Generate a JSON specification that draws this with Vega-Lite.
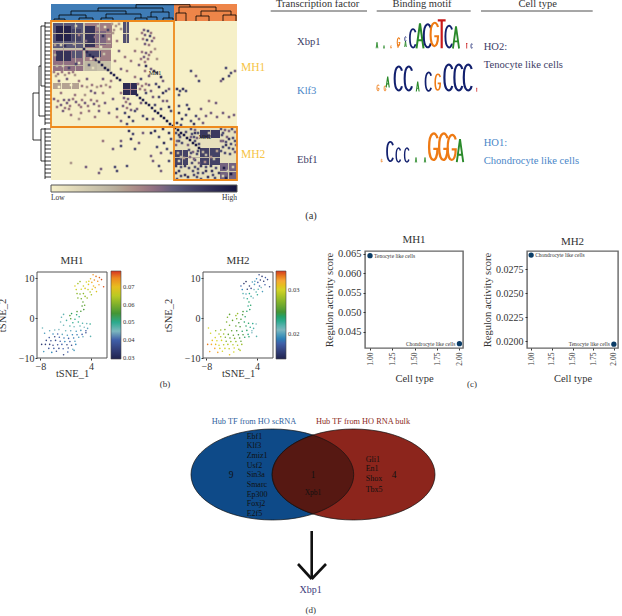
{
"$schema":"https://vega.github.io/schema/vega-lite/v6.json",
"padding":{"left":-3,"top":-1,"right":0,"bottom":0},
"background":"white",
"config":{"view":{"stroke":null},"font":"Liberation Serif","text":{"font":"Liberation Serif"},"axis":{"labelFont":"Liberation Serif","titleFont":"Liberation Serif","labelColor":"#333","titleColor":"#333","titleFontWeight":"normal","grid":false,"tickColor":"#333","tickSize":2,"domain":false},"title":{"font":"Liberation Serif","fontWeight":"normal","color":"#333"},"legend":{"labelFont":"Liberation Serif"}},
"spacing":0,
"resolve":{"scale":{"color":"independent","fill":"independent","stroke":"independent","shape":"independent","size":"independent","strokeWidth":"independent"}},
"vconcat":[
{"bounds":"flush","spacing":0,
 "resolve":{"scale":{"color":"independent","fill":"independent","stroke":"independent","shape":"independent","size":"independent","strokeWidth":"independent"}},
 "hconcat":[
 {"width":237,"height":233,
  "layer":[
   {"data":{"values":[{"x":0,"x2":186,"y":0,"y2":159,"v":0}]},"mark":{"type":"rect"},
    "encoding":{"x":{"field":"x","type":"quantitative","scale":{"domain":[-51,186],"nice":false,"zero":false},"axis":null},"x2":{"field":"x2"},"y":{"field":"y","type":"quantitative","scale":{"domain":[-21,212],"reverse":true,"nice":false,"zero":false},"axis":null},"y2":{"field":"y2"},
     "color":{"field":"v","type":"quantitative","scale":{"domain":[0,0.33,0.66,1],"range":["#f6f0c8","#b9b29f","#5f5d7c","#14143f"]},
      "legend":{"orient":"none","legendX":51,"legendY":185,"direction":"horizontal","gradientLength":186,"gradientThickness":7,"title":null,"values":[0,1],"labelExpr":"datum.value==0?'Low':'High'","labelFontSize":7.5,"labelColor":"#333","gradientStrokeColor":"#555","gradientStrokeWidth":1}}}},
   {"data":{"name":"blocks","values":[
{"x":124,"x2":186,"y":107,"y2":159,"v":0.08},{"x":2,"x2":60,"y":2,"y2":50,"v":0.25},
{"x":2,"x2":32,"y":2,"y2":27,"v":0.68},{"x":34,"x2":61,"y":2,"y2":27,"v":0.5},{"x":2,"x2":32,"y":29,"y2":50,"v":0.55},{"x":34,"x2":60,"y":29,"y2":40,"v":0.5},{"x":34,"x2":46,"y":40,"y2":50,"v":0.3},
{"x":5,"x2":20,"y":5,"y2":20,"v":0.93},{"x":21,"x2":30,"y":8,"y2":20,"v":0.78},{"x":34,"x2":44,"y":5,"y2":26,"v":0.85},{"x":45,"x2":55,"y":10,"y2":24,"v":0.6},{"x":5,"x2":20,"y":30,"y2":40,"v":0.85},{"x":21,"x2":31,"y":30,"y2":37,"v":0.7},{"x":35,"x2":50,"y":30,"y2":36,"v":0.75},
{"x":72,"x2":78,"y":1,"y2":22,"v":0.72},{"x":2,"x2":28,"y":62,"y2":68,"v":0.38},{"x":72,"x2":86,"y":62,"y2":74,"v":0.88},
{"x":124,"x2":137,"y":129,"y2":144,"v":0.78},{"x":149,"x2":169,"y":127,"y2":144,"v":0.78},{"x":169,"x2":186,"y":142,"y2":159,"v":0.62},{"x":149,"x2":169,"y":109,"y2":117,"v":0.82},
{"x":12,"x2":13,"y":2,"y2":50,"v":0.35},{"x":24,"x2":25,"y":2,"y2":50,"v":0.3},{"x":48,"x2":49,"y":2,"y2":40,"v":0.3},{"x":2,"x2":60,"y":12,"y2":13,"v":0.35},{"x":2,"x2":60,"y":22,"y2":23,"v":0.3},{"x":2,"x2":32,"y":44,"y2":45,"v":0.3},{"x":10,"x2":11,"y":62,"y2":68,"v":0.05},{"x":20,"x2":21,"y":62,"y2":68,"v":0.05},{"x":75,"x2":75.8,"y":1,"y2":22,"v":0.2},{"x":72,"x2":78,"y":12,"y2":13,"v":0.15},{"x":79,"x2":80,"y":62,"y2":74,"v":0.5},{"x":72,"x2":86,"y":68,"y2":69,"v":0.5},
{"x":131,"x2":132,"y":129,"y2":144,"v":0.3},{"x":158,"x2":159,"y":127,"y2":144,"v":0.3},{"x":177,"x2":178,"y":142,"y2":159,"v":0.2},{"x":124,"x2":169,"y":136,"y2":137,"v":0.3},{"x":169,"x2":186,"y":150,"y2":151,"v":0.2},{"x":159,"x2":160,"y":109,"y2":117,"v":0.35}
]},"mark":{"type":"rect"},
    "encoding":{"x":{"field":"x","type":"quantitative","axis":null},"x2":{"field":"x2"},"y":{"field":"y","type":"quantitative","axis":null},"y2":{"field":"y2"},"color":{"field":"v","type":"quantitative","legend":null}}},
   {"data":{"name":"cells","values":[
{"x":33,"y":28,"v":0.9},{"x":36,"y":31,"v":0.9},{"x":39,"y":34,"v":0.9},{"x":42,"y":36,"v":0.95},{"x":45,"y":39,"v":0.9},{"x":48,"y":41,"v":0.9},{"x":51,"y":44,"v":0.9},{"x":54,"y":47,"v":0.95},{"x":57,"y":49,"v":0.9},{"x":60,"y":52,"v":0.85},{"x":63,"y":54,"v":0.9},{"x":66,"y":57,"v":0.9},{"x":69,"y":59,"v":0.85},{"x":86,"y":74,"v":0.9},{"x":89,"y":77,"v":0.9},{"x":92,"y":79,"v":0.9},{"x":95,"y":82,"v":0.9},{"x":98,"y":84,"v":0.9},{"x":101,"y":87,"v":0.9},{"x":104,"y":90,"v":0.9},{"x":107,"y":92,"v":0.95},{"x":110,"y":95,"v":0.95},{"x":113,"y":97,"v":0.95},{"x":116,"y":100,"v":0.95},{"x":119,"y":103,"v":0.95},{"x":122,"y":105,"v":0.95},
{"x":124,"y":107,"v":0.95},{"x":127,"y":109,"v":0.95},{"x":130,"y":112,"v":0.95},{"x":133,"y":114,"v":0.95},{"x":136,"y":117,"v":0.95},{"x":139,"y":119,"v":0.95},{"x":142,"y":122,"v":0.95},{"x":145,"y":124,"v":0.95},{"x":148,"y":127,"v":0.95},
{"x":95,"y":45,"v":0.8},{"x":100,"y":48,"v":0.6},{"x":103,"y":50,"v":0.8},{"x":106,"y":52,"v":0.7},{"x":98,"y":55,"v":0.6},{"x":90,"y":58,"v":0.7},{"x":110,"y":56,"v":0.8},{"x":112,"y":60,"v":0.6},{"x":105,"y":63,"v":0.7},{"x":108,"y":66,"v":0.8},{"x":115,"y":70,"v":0.7},{"x":118,"y":68,"v":0.6},{"x":112,"y":72,"v":0.8},{"x":100,"y":70,"v":0.6},{"x":95,"y":72,"v":0.7},{"x":108,"y":76,"v":0.7},{"x":112,"y":80,"v":0.6},{"x":104,"y":84,"v":0.7},{"x":118,"y":86,"v":0.8},{"x":120,"y":90,"v":0.7},{"x":90,"y":82,"v":0.6},{"x":84,"y":90,"v":0.7},{"x":78,"y":96,"v":0.8},{"x":74,"y":92,"v":0.7},{"x":82,"y":100,"v":0.7},{"x":86,"y":88,"v":0.6},{"x":70,"y":100,"v":0.6},{"x":76,"y":103,"v":0.7},{"x":92,"y":95,"v":0.7},{"x":96,"y":98,"v":0.8},{"x":102,"y":98,"v":0.6},{"x":110,"y":88,"v":0.7},{"x":116,"y":80,"v":0.6},
{"x":40,"y":70,"v":0.6},{"x":52,"y":72,"v":0.5},{"x":62,"y":78,"v":0.6},{"x":48,"y":90,"v":0.6},{"x":30,"y":92,"v":0.5},{"x":20,"y":94,"v":0.5},{"x":12,"y":90,"v":0.6},{"x":10,"y":72,"v":0.5},{"x":58,"y":92,"v":0.6},{"x":66,"y":88,"v":0.7},{"x":44,"y":96,"v":0.5},{"x":8,"y":60,"v":0.6},{"x":16,"y":58,"v":0.6},{"x":28,"y":60,"v":0.5},{"x":36,"y":58,"v":0.6},{"x":52,"y":58,"v":0.6},{"x":60,"y":60,"v":0.5},{"x":70,"y":48,"v":0.6},{"x":64,"y":40,"v":0.5},{"x":68,"y":30,"v":0.6},{"x":62,"y":12,"v":0.4},{"x":66,"y":20,"v":0.5},{"x":70,"y":8,"v":0.4},{"x":84,"y":30,"v":0.5},{"x":80,"y":40,"v":0.5},{"x":76,"y":50,"v":0.5},{"x":44,"y":72,"v":0.6},{"x":24,"y":74,"v":0.5},{"x":54,"y":82,"v":0.6},
{"x":74,"y":36,"v":0.5},{"x":86,"y":18,"v":0.4},{"x":88,"y":44,"v":0.6},{"x":84,"y":56,"v":0.5},{"x":104,"y":28,"v":0.4},{"x":106,"y":38,"v":0.4},{"x":94,"y":50,"v":0.5},{"x":34,"y":74,"v":0.4},{"x":18,"y":88,"v":0.5},{"x":28,"y":98,"v":0.4},{"x":38,"y":90,"v":0.5},{"x":70,"y":72,"v":0.5},{"x":66,"y":96,"v":0.5},{"x":98,"y":64,"v":0.6},{"x":102,"y":76,"v":0.6},
{"x":93,"y":9,"v":0.6},{"x":97,"y":10,"v":0.7},{"x":100,"y":12,"v":0.5},{"x":94,"y":14,"v":0.6},{"x":99,"y":15,"v":0.7},{"x":92,"y":18,"v":0.5},{"x":96,"y":19,"v":0.7},{"x":101,"y":20,"v":0.6},{"x":94,"y":23,"v":0.6},{"x":98,"y":24,"v":0.5},{"x":91,"y":12,"v":0.5},{"x":103,"y":17,"v":0.5},
{"x":91,"y":31,"v":0.5},{"x":95,"y":32,"v":0.6},{"x":98,"y":34,"v":0.5},{"x":93,"y":36,"v":0.6},{"x":97,"y":38,"v":0.5},{"x":90,"y":38,"v":0.5},{"x":100,"y":31,"v":0.5},{"x":94,"y":41,"v":0.5},
{"x":3,"y":51,"v":0.5},{"x":7,"y":53,"v":0.5},{"x":11,"y":51,"v":0.5},{"x":14,"y":54,"v":0.4},{"x":18,"y":52,"v":0.5},{"x":22,"y":51,"v":0.5},{"x":24,"y":54,"v":0.4},{"x":5,"y":55,"v":0.4},
{"x":31,"y":65,"v":0.5},{"x":36,"y":66,"v":0.4},{"x":41,"y":64,"v":0.5},{"x":46,"y":66,"v":0.4},{"x":50,"y":65,"v":0.5},{"x":55,"y":64,"v":0.4},{"x":59,"y":66,"v":0.5},
{"x":3,"y":78,"v":0.6},{"x":7,"y":80,"v":0.5},{"x":10,"y":84,"v":0.6},{"x":13,"y":79,"v":0.6},{"x":16,"y":82,"v":0.6},{"x":19,"y":85,"v":0.5},{"x":22,"y":78,"v":0.5},{"x":25,"y":81,"v":0.6},{"x":28,"y":84,"v":0.5},{"x":31,"y":79,"v":0.5},{"x":34,"y":82,"v":0.6},{"x":37,"y":85,"v":0.5},{"x":40,"y":79,"v":0.5},{"x":43,"y":83,"v":0.6},{"x":46,"y":80,"v":0.5},{"x":6,"y":86,"v":0.5},{"x":18,"y":79,"v":0.6},{"x":30,"y":86,"v":0.5},{"x":48,"y":85,"v":0.5},{"x":14,"y":87,"v":0.5},
{"x":73,"y":77,"v":0.6},{"x":77,"y":78,"v":0.6},{"x":75,"y":81,"v":0.5},{"x":79,"y":83,"v":0.6},{"x":72,"y":85,"v":0.6},{"x":76,"y":87,"v":0.5},{"x":80,"y":89,"v":0.6},
{"x":87,"y":63,"v":0.5},{"x":91,"y":65,"v":0.5},{"x":95,"y":63,"v":0.5},{"x":89,"y":68,"v":0.5},{"x":94,"y":69,"v":0.5},{"x":61,"y":3,"v":0.4},{"x":65,"y":5,"v":0.4},{"x":68,"y":3,"v":0.4},{"x":63,"y":9,"v":0.4},
{"x":140,"y":108,"v":0.7},{"x":144,"y":109,"v":0.6},{"x":147,"y":112,"v":0.7},{"x":141,"y":113,"v":0.7},{"x":146,"y":117,"v":0.6},{"x":140,"y":116,"v":0.6},{"x":144,"y":120,"v":0.7},{"x":148,"y":123,"v":0.7},
{"x":170,"y":108,"v":0.7},{"x":174,"y":109,"v":0.6},{"x":181,"y":108,"v":0.7},{"x":184,"y":111,"v":0.6},{"x":171,"y":114,"v":0.7},{"x":176,"y":116,"v":0.6},{"x":182,"y":117,"v":0.7},{"x":170,"y":120,"v":0.6},{"x":175,"y":121,"v":0.7},{"x":180,"y":123,"v":0.7},{"x":185,"y":124,"v":0.6},{"x":172,"y":126,"v":0.7},{"x":178,"y":127,"v":0.7},{"x":184,"y":131,"v":0.6},{"x":170,"y":130,"v":0.7},{"x":179,"y":133,"v":0.7},
{"x":125,"y":145,"v":0.8},{"x":130,"y":146,"v":0.7},{"x":134,"y":145,"v":0.8},{"x":138,"y":147,"v":0.7},{"x":144,"y":146,"v":0.7},{"x":147,"y":148,"v":0.7},{"x":125,"y":152,"v":0.8},{"x":130,"y":155,"v":0.7},{"x":137,"y":156,"v":0.8},{"x":143,"y":154,"v":0.7},{"x":147,"y":152,"v":0.7},{"x":126,"y":158,"v":0.7},
{"x":150,"y":145,"v":0.8},{"x":155,"y":146,"v":0.7},{"x":160,"y":145,"v":0.8},{"x":165,"y":147,"v":0.7},{"x":168,"y":152,"v":0.8},{"x":152,"y":152,"v":0.7},{"x":157,"y":156,"v":0.8},{"x":164,"y":157,"v":0.7},{"x":150,"y":158,"v":0.7},{"x":161,"y":150,"v":0.8},
{"x":125,"y":112,"v":0.7},{"x":129,"y":116,"v":0.7},{"x":135,"y":111,"v":0.7},{"x":126,"y":120,"v":0.6},{"x":131,"y":122,"v":0.7},{"x":137,"y":124,"v":0.6},{"x":125,"y":124,"v":0.6},
{"x":138,"y":129,"v":0.7},{"x":142,"y":131,"v":0.6},{"x":147,"y":130,"v":0.7},{"x":139,"y":136,"v":0.6},{"x":144,"y":139,"v":0.7},{"x":148,"y":142,"v":0.6},{"x":141,"y":142,"v":0.7},
{"x":126,"y":68,"v":0.8},{"x":129,"y":70,"v":0.7},{"x":132,"y":68,"v":0.8},{"x":135,"y":70,"v":0.7},{"x":128,"y":74,"v":0.7},{"x":140,"y":50,"v":0.7},{"x":145,"y":55,"v":0.6},{"x":148,"y":60,"v":0.7},{"x":175,"y":47,"v":0.7},{"x":178,"y":55,"v":0.7},{"x":172,"y":58,"v":0.8},{"x":180,"y":52,"v":0.7},{"x":170,"y":60,"v":0.6},{"x":184,"y":50,"v":0.6},{"x":165,"y":82,"v":0.6},{"x":150,"y":88,"v":0.6},{"x":145,"y":95,"v":0.7},{"x":128,"y":92,"v":0.8},{"x":131,"y":98,"v":0.8},{"x":135,"y":94,"v":0.7},{"x":138,"y":88,"v":0.8},{"x":140,"y":100,"v":0.7},{"x":143,"y":103,"v":0.8},{"x":126,"y":102,"v":0.8},{"x":130,"y":104,"v":0.7},{"x":148,"y":98,"v":0.6},{"x":155,"y":95,"v":0.6},{"x":160,"y":92,"v":0.6},{"x":166,"y":96,"v":0.6},{"x":172,"y":92,"v":0.6},{"x":178,"y":96,"v":0.6},{"x":183,"y":94,"v":0.6},{"x":136,"y":84,"v":0.7},{"x":128,"y":85,"v":0.7},{"x":152,"y":102,"v":0.6},{"x":158,"y":80,"v":0.5},
{"x":78,"y":110,"v":0.8},{"x":82,"y":113,"v":0.7},{"x":80,"y":118,"v":0.8},{"x":88,"y":122,"v":0.6},{"x":84,"y":128,"v":0.7},{"x":70,"y":120,"v":0.6},{"x":92,"y":112,"v":0.6},{"x":100,"y":112,"v":0.8},{"x":104,"y":110,"v":0.8},{"x":108,"y":116,"v":0.7},{"x":112,"y":108,"v":0.8},{"x":118,"y":112,"v":0.8},{"x":120,"y":118,"v":0.7},{"x":113,"y":122,"v":0.8},{"x":116,"y":128,"v":0.7},{"x":110,"y":132,"v":0.6},{"x":106,"y":126,"v":0.7},{"x":70,"y":125,"v":0.7},{"x":62,"y":128,"v":0.6},{"x":52,"y":120,"v":0.5},{"x":76,"y":145,"v":0.7},{"x":66,"y":150,"v":0.7},{"x":64,"y":146,"v":0.7},{"x":50,"y":148,"v":0.6},{"x":48,"y":152,"v":0.6},{"x":35,"y":146,"v":0.6},{"x":20,"y":142,"v":0.4},{"x":108,"y":145,"v":0.7},{"x":110,"y":150,"v":0.6},{"x":100,"y":135,"v":0.6},{"x":102,"y":140,"v":0.6},{"x":118,"y":140,"v":0.7},{"x":120,"y":132,"v":0.7},
{"x":128,"y":114,"v":0.8},{"x":144,"y":112,"v":0.8},{"x":172,"y":112,"v":0.7},{"x":178,"y":118,"v":0.8},{"x":182,"y":128,"v":0.7},{"x":175,"y":124,"v":0.8},{"x":140,"y":132,"v":0.7},{"x":128,"y":150,"v":0.8},{"x":134,"y":154,"v":0.8},{"x":142,"y":150,"v":0.7},{"x":155,"y":150,"v":0.8},{"x":162,"y":154,"v":0.7},{"x":146,"y":156,"v":0.7},
{"x":10,"y":24,"v":0.2},{"x":25,"y":5,"v":0.2},{"x":12,"y":45,"v":0.2},{"x":28,"y":42,"v":0.1},{"x":54,"y":6,"v":0.1},{"x":58,"y":18,"v":0.1},{"x":40,"y":38,"v":0.1},{"x":50,"y":26,"v":0.1},{"x":8,"y":66,"v":0},{"x":20,"y":64,"v":0},{"x":130,"y":136,"v":0.3},{"x":128,"y":140,"v":0.2},{"x":155,"y":134,"v":0.3},{"x":163,"y":138,"v":0.3},{"x":158,"y":112,"v":0.3},{"x":177,"y":150,"v":0.2},{"x":182,"y":146,"v":0.2},{"x":172,"y":155,"v":0.2},
{"x":23,"y":23,"v":0.35},{"x":47,"y":5,"v":0.25},{"x":52,"y":15,"v":0.85},{"x":57,"y":9,"v":0.75},{"x":28,"y":14,"v":0.5},{"x":4,"y":24,"v":0.4},{"x":14,"y":25,"v":0.85},{"x":6,"y":45,"v":0.3},{"x":18,"y":47,"v":0.75},{"x":25,"y":43,"v":0.75},{"x":4,"y":34,"v":0.35},{"x":47,"y":38,"v":0.2},{"x":53,"y":33,"v":0.25},{"x":38,"y":44,"v":0.7},{"x":42,"y":47,"v":0.1},{"x":44,"y":16,"v":0.55},{"x":35,"y":20,"v":0.6},{"x":127,"y":132,"v":0.35},{"x":133,"y":137,"v":0.4},{"x":152,"y":131,"v":0.35},{"x":160,"y":136,"v":0.45},{"x":166,"y":130,"v":0.4},{"x":154,"y":141,"v":0.45},{"x":173,"y":147,"v":0.95},{"x":180,"y":153,"v":0.95},{"x":175,"y":157,"v":0.9},{"x":172,"y":120,"v":0.6},{"x":184,"y":120,"v":0.7},{"x":174,"y":132,"v":0.7},{"x":178,"y":110,"v":0.6},{"x":143,"y":138,"v":0.6},{"x":146,"y":133,"v":0.7},{"x":128,"y":120,"v":0.7},{"x":143,"y":116,"v":0.7}
]},"mark":{"type":"rect","width":2.6,"height":2.6},
    "encoding":{"x":{"field":"x","type":"quantitative","axis":null},"y":{"field":"y","type":"quantitative","axis":null},"color":{"field":"v","type":"quantitative","legend":null}}},
   {"data":{"values":[{"x":0,"x2":123,"y":-17,"y2":0,"g":"MH1"},{"x":123,"x2":186,"y":-17,"y2":0,"g":"MH2"}]},"mark":{"type":"rect","opacity":1},
    "encoding":{"x":{"field":"x","type":"quantitative","axis":null},"x2":{"field":"x2"},"y":{"field":"y","type":"quantitative","axis":null},"y2":{"field":"y2"},"fill":{"field":"g","type":"nominal","scale":{"domain":["MH1","MH2"],"range":["#3f7cb6","#ee8549"]},"legend":null}}},
   {"data":{"values":[
{"x":85,"x2":139,"y":-16.3,"y2":-16.3},{"x":85,"x2":85,"y":-16.3,"y2":-13},{"x":139,"x2":139,"y":-16.3,"y2":-14},{"x":47,"x2":112,"y":-13,"y2":-13},{"x":47,"x2":47,"y":-13,"y2":-10},{"x":112,"x2":112,"y":-13,"y2":-9},{"x":20,"x2":75,"y":-10,"y2":-10},{"x":20,"x2":20,"y":-10,"y2":-6},{"x":75,"x2":75,"y":-10,"y2":-7},{"x":8,"x2":35,"y":-6,"y2":-6},{"x":8,"x2":8,"y":-6,"y2":-2},{"x":35,"x2":35,"y":-6,"y2":-3},{"x":55,"x2":90,"y":-7,"y2":-7},{"x":55,"x2":55,"y":-7,"y2":-3},{"x":90,"x2":90,"y":-7,"y2":-3},{"x":100,"x2":118,"y":-9,"y2":-9},{"x":100,"x2":100,"y":-9,"y2":-4},{"x":118,"x2":118,"y":-9,"y2":-3},{"x":3,"x2":14,"y":-2,"y2":-2},{"x":28,"x2":42,"y":-3,"y2":-3},{"x":50,"x2":62,"y":-3,"y2":-3},{"x":84,"x2":96,"y":-3,"y2":-3},{"x":96,"x2":106,"y":-4,"y2":-4},{"x":112,"x2":122,"y":-3,"y2":-3},{"x":3,"x2":3,"y":-2,"y2":0},{"x":14,"x2":14,"y":-2,"y2":0},{"x":28,"x2":28,"y":-3,"y2":0},{"x":42,"x2":42,"y":-3,"y2":0},{"x":50,"x2":50,"y":-3,"y2":0},{"x":62,"x2":62,"y":-3,"y2":0},{"x":84,"x2":84,"y":-3,"y2":0},{"x":96,"x2":96,"y":-3,"y2":0},{"x":106,"x2":106,"y":-4,"y2":0},{"x":112,"x2":112,"y":-3,"y2":0},{"x":122,"x2":122,"y":-3,"y2":0},
{"x":128,"x2":165,"y":-14,"y2":-14},{"x":128,"x2":128,"y":-14,"y2":-8},{"x":165,"x2":165,"y":-14,"y2":-10},{"x":125,"x2":135,"y":-8,"y2":-8},{"x":150,"x2":180,"y":-10,"y2":-10},{"x":150,"x2":150,"y":-10,"y2":-5},{"x":180,"x2":180,"y":-10,"y2":-6},{"x":145,"x2":158,"y":-5,"y2":-5},{"x":172,"x2":185,"y":-6,"y2":-6},{"x":125,"x2":125,"y":-8,"y2":0},{"x":135,"x2":135,"y":-8,"y2":0},{"x":145,"x2":145,"y":-5,"y2":0},{"x":158,"x2":158,"y":-5,"y2":0},{"x":172,"x2":172,"y":-6,"y2":0},{"x":185,"x2":185,"y":-6,"y2":0},
{"x":-18,"x2":-18,"y":72,"y2":119},{"x":-18,"x2":-12,"y":72,"y2":72},{"x":-18,"x2":-10,"y":119,"y2":119},{"x":-12,"x2":-12,"y":45,"y2":95},{"x":-12,"x2":-10,"y":45,"y2":45},{"x":-12,"x2":-6,"y":95,"y2":95},{"x":-10,"x2":-10,"y":5,"y2":65},{"x":-10,"x2":-6,"y":5,"y2":5},{"x":-10,"x2":-6,"y":65,"y2":65},{"x":-10,"x2":-10,"y":108,"y2":140},{"x":-10,"x2":-6,"y":108,"y2":108},{"x":-10,"x2":-6,"y":140,"y2":140},{"x":-6,"x2":-6,"y":1,"y2":104},{"x":-6,"x2":-6,"y":107,"y2":158},
{"x":-6,"x2":0,"y":2,"y2":2},{"x":-6,"x2":0,"y":6,"y2":6},{"x":-6,"x2":0,"y":10,"y2":10},{"x":-6,"x2":0,"y":14,"y2":14},{"x":-6,"x2":0,"y":18,"y2":18},{"x":-6,"x2":0,"y":22,"y2":22},{"x":-6,"x2":0,"y":26,"y2":26},{"x":-6,"x2":0,"y":30,"y2":30},{"x":-6,"x2":0,"y":34,"y2":34},{"x":-6,"x2":0,"y":38,"y2":38},{"x":-6,"x2":0,"y":42,"y2":42},{"x":-6,"x2":0,"y":46,"y2":46},{"x":-6,"x2":0,"y":50,"y2":50},{"x":-6,"x2":0,"y":54,"y2":54},{"x":-6,"x2":0,"y":58,"y2":58},{"x":-6,"x2":0,"y":62,"y2":62},{"x":-6,"x2":0,"y":66,"y2":66},{"x":-6,"x2":0,"y":70,"y2":70},{"x":-6,"x2":0,"y":74,"y2":74},{"x":-6,"x2":0,"y":78,"y2":78},{"x":-6,"x2":0,"y":82,"y2":82},{"x":-6,"x2":0,"y":86,"y2":86},{"x":-6,"x2":0,"y":90,"y2":90},{"x":-6,"x2":0,"y":94,"y2":94},{"x":-6,"x2":0,"y":98,"y2":98},{"x":-6,"x2":0,"y":102,"y2":102},{"x":-6,"x2":0,"y":108,"y2":108},{"x":-6,"x2":0,"y":112,"y2":112},{"x":-6,"x2":0,"y":116,"y2":116},{"x":-6,"x2":0,"y":120,"y2":120},{"x":-6,"x2":0,"y":124,"y2":124},{"x":-6,"x2":0,"y":128,"y2":128},{"x":-6,"x2":0,"y":132,"y2":132},{"x":-6,"x2":0,"y":136,"y2":136},{"x":-6,"x2":0,"y":140,"y2":140},{"x":-6,"x2":0,"y":144,"y2":144},{"x":-6,"x2":0,"y":148,"y2":148},{"x":-6,"x2":0,"y":152,"y2":152},{"x":-6,"x2":0,"y":156,"y2":156}
]},"mark":{"type":"rule","color":"#000","strokeWidth":0.8},
    "encoding":{"x":{"field":"x","type":"quantitative","axis":null},"x2":{"field":"x2"},"y":{"field":"y","type":"quantitative","axis":null},"y2":{"field":"y2"}}},
   {"data":{"values":[{"x":0,"x2":123,"y":0,"y2":106},{"x":123,"x2":186,"y":106,"y2":159}]},"mark":{"type":"rect","fillOpacity":0,"stroke":"#ee8a1d","strokeWidth":1.8},
    "encoding":{"x":{"field":"x","type":"quantitative","axis":null},"x2":{"field":"x2"},"y":{"field":"y","type":"quantitative","axis":null},"y2":{"field":"y2"}}},
   {"data":{"values":[{"x":104,"y":52,"t":"MH1"},{"x":154,"y":116,"t":"MH2"}]},"mark":{"type":"text","fontSize":6,"color":"#222"},
    "encoding":{"x":{"field":"x","type":"quantitative","axis":null},"y":{"field":"y","type":"quantitative","axis":null},"text":{"field":"t"}}}
  ]},
 {"width":385,"height":233,
  "layer":[
   {"data":{"values":[{"x":270.7,"x2":367,"y":11},{"x":376.7,"x2":470.7,"y":11},{"x":481,"x2":592.7,"y":11}]},"mark":{"type":"rule","color":"#222","strokeWidth":0.8},
    "encoding":{"x":{"field":"x","type":"quantitative","scale":{"domain":[237,622],"nice":false,"zero":false},"axis":null},"x2":{"field":"x2"},"y":{"field":"y","type":"quantitative","scale":{"domain":[0,233],"reverse":true,"nice":false},"axis":null}}},
   {"data":{"values":[{"x":317.7,"y":4,"t":"Transcription factor"},{"x":422,"y":4,"t":"Binding motif"},{"x":537.7,"y":4,"t":"Cell type"},{"x":311,"y":216,"t":"(a)"}]},"mark":{"type":"text","fontSize":10.5,"color":"#333"},
    "encoding":{"x":{"field":"x","type":"quantitative","axis":null},"y":{"field":"y","type":"quantitative","axis":null},"text":{"field":"t"}}},
   {"data":{"values":[{"x":297,"y":41.7,"t":"Xbp1","g":"tenocyte"},{"x":297,"y":90.7,"t":"Klf3","g":"chondrocyte"},{"x":297,"y":160,"t":"Ebf1","g":"tenocyte"},{"x":483.7,"y":47,"t":"HO2:","g":"tenocyte"},{"x":483.7,"y":65,"t":"Tenocyte like cells","g":"tenocyte"},{"x":483.7,"y":143,"t":"HO1:","g":"chondrocyte"},{"x":483.7,"y":161,"t":"Chondrocyte like cells","g":"chondrocyte"}]},"mark":{"type":"text","fontSize":10.6,"align":"left"},
    "encoding":{"x":{"field":"x","type":"quantitative","axis":null},"y":{"field":"y","type":"quantitative","axis":null},"text":{"field":"t"},"color":{"field":"g","type":"nominal","scale":{"domain":["tenocyte","chondrocyte"],"range":["#3d3d66","#4a86c8"]},"legend":null}}},
   {"data":{"values":[{"x":241,"y":68,"t":"MH1"},{"x":241,"y":155,"t":"MH2"}]},"mark":{"type":"text","fontSize":11.5,"align":"left","color":"#f6c445"},
    "encoding":{"x":{"field":"x","type":"quantitative","axis":null},"y":{"field":"y","type":"quantitative","axis":null},"text":{"field":"t"}}},
   {"data":{"values":[
{"x":377,"y":45.3,"h":6,"l":"A"},{"x":384,"y":47,"h":3,"l":"A"},{"x":391,"y":47,"h":3,"l":"G"},{"x":398,"y":46,"h":4,"l":"G"},{"x":398.5,"y":42,"h":9,"l":"G"},{"x":405.5,"y":44,"h":6,"l":"A"},{"x":405.5,"y":39,"h":5,"l":"C"},{"x":412.7,"y":38.3,"h":20,"l":"C"},{"x":420,"y":35.8,"h":25,"l":"A"},{"x":427.3,"y":35.8,"h":25,"l":"C"},{"x":434.3,"y":35,"h":26.5,"l":"G"},{"x":441.7,"y":34.3,"h":28,"l":"T"},{"x":448.7,"y":36.6,"h":23.5,"l":"C"},{"x":456,"y":37.5,"h":22,"l":"A"},{"x":466.7,"y":46,"h":5,"l":"T"},{"x":471.7,"y":46,"h":5,"l":"C"},
{"x":378,"y":88,"h":7,"l":"G"},{"x":385,"y":88.5,"h":6,"l":"G"},{"x":387.7,"y":82,"h":11,"l":"A"},{"x":398.3,"y":78.5,"h":26,"l":"C"},{"x":408.3,"y":78.5,"h":26,"l":"C"},{"x":417.7,"y":86.5,"h":10,"l":"A"},{"x":428.3,"y":81.7,"h":20,"l":"C"},{"x":437.7,"y":82.5,"h":18,"l":"G"},{"x":448.3,"y":77.5,"h":28,"l":"C"},{"x":458.3,"y":77.5,"h":28,"l":"C"},{"x":467.7,"y":77.5,"h":28,"l":"C"},{"x":476.7,"y":90,"h":3.5,"l":"T"},
{"x":381.7,"y":160.7,"h":3.5,"l":"G"},{"x":390,"y":151.5,"h":21,"l":"C"},{"x":398.3,"y":155,"h":15,"l":"C"},{"x":406.7,"y":155,"h":15,"l":"C"},{"x":416,"y":160,"h":5,"l":"A"},{"x":425,"y":160,"h":5,"l":"A"},{"x":433.3,"y":147.3,"h":30,"l":"G"},{"x":443.3,"y":147.3,"h":30,"l":"G"},{"x":451.7,"y":148,"h":28.5,"l":"G"},{"x":460,"y":150.7,"h":23,"l":"A"}
]},"mark":{"type":"point","filled":false,"opacity":1},
    "encoding":{"x":{"field":"x","type":"quantitative","axis":null},"y":{"field":"y","type":"quantitative","axis":null},
     "shape":{"field":"l","type":"nominal","legend":null,"scale":{"domain":["A","C","G","T"],"range":["M-0.28,1 L0,-1 L0.28,1 M-0.17,0.35 L0.17,0.35","M0.28,-0.6 C0.17,-1.1 -0.28,-1.1 -0.28,0 C-0.28,1.1 0.17,1.1 0.28,0.6","M0.28,-0.6 C0.17,-1.1 -0.28,-1.1 -0.28,0 C-0.28,1.1 0.28,1.1 0.28,0.1 L0,0.1","M-0.28,-1 L0.28,-1 M0,-1 L0,1"]}},
     "stroke":{"field":"l","type":"nominal","legend":null,"scale":{"domain":["A","C","G","T"],"range":["#2a8a2a","#12206e","#ee7a14","#c91a1a"]}},
     "size":{"field":"h","type":"quantitative","legend":null,"scale":{"type":"pow","exponent":2,"domain":[0,30],"range":[0,900]}},
     "strokeWidth":{"field":"h","type":"quantitative","legend":null,"scale":{"domain":[3,30],"range":[0.7,2.3]}}}}
  ]}
]},
{"bounds":"flush","spacing":0,
 "resolve":{"scale":{"color":"independent","fill":"independent","stroke":"independent","shape":"independent","size":"independent","strokeWidth":"independent"}},
 "hconcat":[
 {"width":37,"height":10,"data":{"values":[]},"mark":"text","encoding":{}},
 {"width":70,"height":107,"layer":[
   {"data":{"values":[{"x":-8.8,"x2":7.8,"y":-10,"y2":11.5}]},"mark":{"type":"rect","fillOpacity":0,"stroke":"#555","strokeWidth":1},
    "encoding":{"x":{"field":"x","type":"quantitative","scale":{"domain":[-8.8,7.8],"nice":false,"zero":false},"axis":{"values":[-8,-4,0,4],"title":"tSNE_1","labelFontSize":10,"titleFontSize":10.5,"titlePadding":-3,"labelPadding":1}},"x2":{"field":"x2"},"y":{"field":"y","type":"quantitative","scale":{"domain":[-10,16.75],"nice":false,"zero":false},"axis":{"values":[-10,-5,0,5,10],"title":"tSNE_2","labelFontSize":10,"titleFontSize":10.5,"titleY":64,"titleX":-30,"labelPadding":1}},"y2":{"field":"y2"}}},
   {"data":{"name":"tsne","values":[
{"x":4.5,"y":10.8,"a":0.074,"b":0.017},{"x":5.2,"y":10.4,"a":0.076,"b":0.016},{"x":6,"y":10.1,"a":0.077,"b":0.018},{"x":3.9,"y":9.8,"a":0.071,"b":0.019},{"x":4.8,"y":9.5,"a":0.075,"b":0.016},{"x":3.5,"y":9.2,"a":0.068,"b":0.02},{"x":6.5,"y":9.6,"a":0.078,"b":0.017},{"x":5.6,"y":9.2,"a":0.074,"b":0.016},{"x":2.9,"y":9,"a":0.067,"b":0.02},{"x":4.2,"y":8.9,"a":0.072,"b":0.018},{"x":7,"y":7.8,"a":0.078,"b":0.017},{"x":5.9,"y":8.3,"a":0.073,"b":0.018},{"x":4.6,"y":8,"a":0.071,"b":0.018},{"x":3.4,"y":8.4,"a":0.068,"b":0.02},{"x":2.2,"y":8,"a":0.066,"b":0.016},{"x":1.4,"y":9.1,"a":0.062,"b":0.015},{"x":0.9,"y":8.6,"a":0.063,"b":0.016},{"x":0.2,"y":8,"a":0.068,"b":0.018},{"x":0.5,"y":7.1,"a":0.066,"b":0.019},{"x":1.7,"y":7.2,"a":0.067,"b":0.016},{"x":2.6,"y":7.4,"a":0.069,"b":0.017},{"x":3.3,"y":7.1,"a":0.066,"b":0.021},{"x":4.3,"y":7.2,"a":0.07,"b":0.022},{"x":5,"y":7.6,"a":0.071,"b":0.021},{"x":5.3,"y":6.6,"a":0.069,"b":0.02},{"x":3.8,"y":6.5,"a":0.064,"b":0.022},{"x":2.2,"y":6.1,"a":0.061,"b":0.023},{"x":1.4,"y":6,"a":0.06,"b":0.02},{"x":0.9,"y":5,"a":0.06,"b":0.021},{"x":1.7,"y":4.8,"a":0.059,"b":0.023},{"x":2.6,"y":5.4,"a":0.062,"b":0.022},{"x":3.1,"y":5,"a":0.062,"b":0.021},{"x":4.1,"y":5.8,"a":0.063,"b":0.023},{"x":0.7,"y":6.1,"a":0.061,"b":0.022},{"x":2.1,"y":4,"a":0.057,"b":0.024},{"x":2.5,"y":3.2,"a":0.058,"b":0.024},{"x":1.9,"y":3,"a":0.056,"b":0.023},{"x":2.3,"y":2.1,"a":0.055,"b":0.024},{"x":1.6,"y":1.7,"a":0.055,"b":0.024},
{"x":0.7,"y":1.6,"a":0.056,"b":0.025},{"x":-0.6,"y":1.1,"a":0.053,"b":0.028},{"x":-1,"y":0.6,"a":0.056,"b":0.028},{"x":0.6,"y":0.8,"a":0.052,"b":0.025},{"x":1.2,"y":0.3,"a":0.05,"b":0.024},{"x":-0.8,"y":-0.2,"a":0.056,"b":0.027},{"x":0.2,"y":-0.3,"a":0.05,"b":0.025},{"x":-2.5,"y":0.9,"a":0.047,"b":0.026},{"x":-3,"y":0.2,"a":0.047,"b":0.027},{"x":-3.2,"y":-1,"a":0.046,"b":0.027},{"x":-1.8,"y":-0.6,"a":0.048,"b":0.026},{"x":-0.3,"y":-1.2,"a":0.05,"b":0.025},{"x":1,"y":-1,"a":0.05,"b":0.024},{"x":2,"y":-1.3,"a":0.048,"b":0.024},{"x":3,"y":-1.4,"a":0.046,"b":0.023},{"x":3.8,"y":-1.5,"a":0.05,"b":0.021},{"x":-2.5,"y":-1.8,"a":0.046,"b":0.027},{"x":-1,"y":-2,"a":0.048,"b":0.026},{"x":0,"y":-2.2,"a":0.046,"b":0.025},{"x":1.4,"y":-2,"a":0.047,"b":0.024},{"x":2.4,"y":-2.3,"a":0.045,"b":0.023},{"x":3.2,"y":-2.6,"a":0.044,"b":0.022},
{"x":-7.5,"y":-2.5,"a":0.046,"b":0.03},{"x":-5.8,"y":-3.2,"a":0.044,"b":0.028},{"x":-4.6,"y":-3,"a":0.045,"b":0.028},{"x":-3.6,"y":-2.9,"a":0.045,"b":0.027},{"x":-2,"y":-3.2,"a":0.046,"b":0.026},{"x":-0.8,"y":-3.2,"a":0.044,"b":0.025},{"x":0.5,"y":-3.3,"a":0.043,"b":0.024},{"x":1.6,"y":-3.1,"a":0.043,"b":0.024},{"x":2.8,"y":-3.2,"a":0.039,"b":0.021},{"x":-7,"y":-3.8,"a":0.043,"b":0.03},{"x":-5,"y":-4,"a":0.042,"b":0.029},{"x":-3.9,"y":-4,"a":0.04,"b":0.028},{"x":-2.8,"y":-4.1,"a":0.044,"b":0.026},{"x":-1.6,"y":-4.3,"a":0.043,"b":0.026},{"x":-0.4,"y":-4.2,"a":0.042,"b":0.025},{"x":0.7,"y":-4.2,"a":0.041,"b":0.025},{"x":1.9,"y":-4.1,"a":0.04,"b":0.023},{"x":2.8,"y":-3.7,"a":0.037,"b":0.021},{"x":3.9,"y":-4.6,"a":0.047,"b":0.022},{"x":-5.9,"y":-4.9,"a":0.039,"b":0.03},{"x":-4.6,"y":-4.7,"a":0.036,"b":0.029},{"x":-3.5,"y":-4.8,"a":0.04,"b":0.027},{"x":-2.4,"y":-5,"a":0.041,"b":0.026},{"x":-1.3,"y":-5.1,"a":0.04,"b":0.027},{"x":-0.1,"y":-5,"a":0.041,"b":0.025},{"x":1.1,"y":-4.8,"a":0.043,"b":0.024},{"x":2.1,"y":-4.7,"a":0.044,"b":0.024},{"x":-7.7,"y":-6.6,"a":0.034,"b":0.033},{"x":-6.6,"y":-5.6,"a":0.036,"b":0.031},{"x":-5.5,"y":-5.7,"a":0.037,"b":0.03},{"x":-4.4,"y":-5.6,"a":0.037,"b":0.03},{"x":-3.3,"y":-5.8,"a":0.04,"b":0.027},{"x":-2.2,"y":-5.9,"a":0.042,"b":0.028},{"x":-1,"y":-5.9,"a":0.04,"b":0.028},{"x":0.2,"y":-5.8,"a":0.043,"b":0.026},{"x":-6.8,"y":-6.6,"a":0.035,"b":0.032},{"x":-5.8,"y":-6.6,"a":0.034,"b":0.031},{"x":-5,"y":-6.8,"a":0.036,"b":0.03},{"x":-3.9,"y":-6.7,"a":0.038,"b":0.029},{"x":-2.9,"y":-6.6,"a":0.04,"b":0.029},{"x":-1.7,"y":-6.7,"a":0.036,"b":0.029},{"x":-0.6,"y":-6.8,"a":0.036,"b":0.029},{"x":0.4,"y":-6.6,"a":0.042,"b":0.028},{"x":-7.2,"y":-8.4,"a":0.043,"b":0.032},{"x":-6,"y":-7.6,"a":0.038,"b":0.032},{"x":-4.8,"y":-7.6,"a":0.04,"b":0.03},{"x":-3.6,"y":-7.6,"a":0.036,"b":0.03},{"x":-2.6,"y":-7.7,"a":0.04,"b":0.029},{"x":-1.4,"y":-7.5,"a":0.037,"b":0.03},{"x":-0.3,"y":-7.8,"a":0.044,"b":0.028},{"x":-5.3,"y":-8.6,"a":0.042,"b":0.032},{"x":-4.2,"y":-8.3,"a":0.038,"b":0.03},{"x":-2.5,"y":-9.2,"a":0.036,"b":0.031},{"x":-1.5,"y":-8.5,"a":0.04,"b":0.03},{"x":0,"y":-8.1,"a":0.043,"b":0.029}
]},"mark":{"type":"circle","size":2.5,"opacity":0.9},
    "encoding":{"x":{"field":"x","type":"quantitative"},"y":{"field":"y","type":"quantitative"},
     "color":{"field":"a","type":"quantitative","scale":{"domain":[0.0292,0.04,0.045,0.055,0.067,0.073,0.079],"range":["#0a0a3c","#2c4fa0","#6fb0b8","#2f8a20","#cfcf10","#f5a020","#d0200a"]},
      "legend":{"orient":"none","legendX":74,"legendY":20,"direction":"vertical","gradientLength":88,"gradientThickness":10,"title":null,"values":[0.03,0.04,0.05,0.06,0.07],"format":".2f","labelFontSize":6.5,"labelColor":"#333","gradientStrokeColor":"#333","gradientStrokeWidth":0.6}}}},
   {"data":{"values":[{"x":-0.5,"y":14.2,"t":"MH1"}]},"mark":{"type":"text","fontSize":11,"color":"#333"},"encoding":{"x":{"field":"x","type":"quantitative"},"y":{"field":"y","type":"quantitative"},"text":{"field":"t"}}}
 ]},
 {"width":96,"height":137,"data":{"values":[{"x":58,"y":133,"t":"(b)"}]},"mark":{"type":"text","fontSize":9,"color":"#333"},"encoding":{"x":{"field":"x","type":"quantitative","scale":{"domain":[0,96],"nice":false},"axis":null},"y":{"field":"y","type":"quantitative","scale":{"domain":[0,137],"reverse":true,"nice":false},"axis":null},"text":{"field":"t"}}},
 {"width":70,"height":107,"layer":[
   {"data":{"values":[{"x":-8.8,"x2":7.8,"y":-10,"y2":11.5}]},"mark":{"type":"rect","fillOpacity":0,"stroke":"#555","strokeWidth":1},
    "encoding":{"x":{"field":"x","type":"quantitative","scale":{"domain":[-8.8,7.8],"nice":false,"zero":false},"axis":{"values":[-8,-4,0,4],"title":"tSNE_1","labelFontSize":10,"titleFontSize":10.5,"titlePadding":-3,"labelPadding":1}},"x2":{"field":"x2"},"y":{"field":"y","type":"quantitative","scale":{"domain":[-10,16.75],"nice":false,"zero":false},"axis":{"values":[-10,-5,0,5,10],"title":"tSNE_2","labelFontSize":10,"titleFontSize":10.5,"titleY":64,"titleX":-30,"labelPadding":1}},"y2":{"field":"y2"}}},
   {"data":{"name":"tsne"},"mark":{"type":"circle","size":2.5,"opacity":0.9},
    "encoding":{"x":{"field":"x","type":"quantitative"},"y":{"field":"y","type":"quantitative"},
     "color":{"field":"b","type":"quantitative","scale":{"domain":[0.0145,0.018,0.021,0.025,0.03,0.032,0.0342],"range":["#0a0a3c","#2c4fa0","#6fb0b8","#2f8a20","#cfcf10","#f5a020","#d0200a"]},
      "legend":{"orient":"none","legendX":73,"legendY":20,"direction":"vertical","gradientLength":88,"gradientThickness":10,"title":null,"values":[0.02,0.03],"format":".2f","labelFontSize":6.5,"labelColor":"#333","gradientStrokeColor":"#333","gradientStrokeWidth":0.6}}}},
   {"data":{"values":[{"x":-0.5,"y":14.2,"t":"MH2"}]},"mark":{"type":"text","fontSize":11,"color":"#333"},"encoding":{"x":{"field":"x","type":"quantitative"},"y":{"field":"y","type":"quantitative"},"text":{"field":"t"}}}
 ]},
 {"width":92,"height":10,"data":{"values":[]},"mark":"text","encoding":{}},
 {"width":98,"height":97,"view":{"stroke":"#666","strokeWidth":1.4},"title":{"text":"MH1","fontSize":11,"offset":4},
  "data":{"values":[{"x":1,"y":0.0645,"t":"Tenocyte like cells"},{"x":2,"y":0.042,"t":"Chondrocyte like cells"}]},
  "encoding":{"x":{"field":"x","type":"quantitative","scale":{"domain":[0.944,2.04],"nice":false,"zero":false},"axis":{"values":[1,1.25,1.5,1.75,2],"format":".2f","labelAngle":-90,"labelFontSize":7.5,"title":"Cell type","titleFontSize":10.5,"titlePadding":8,"labelAlign":"right","labelBaseline":"middle"}},"y":{"field":"y","type":"quantitative","scale":{"domain":[0.0409,0.0657],"nice":false,"zero":false},"axis":{"values":[0.045,0.05,0.055,0.06,0.065],"format":".3f","labelFontSize":10.5,"title":"Regulon activity score","titleFontSize":10.5,"titlePadding":3}}},
  "layer":[
   {"mark":{"type":"circle","size":28,"opacity":1,"color":"#0b3c66"}},
   {"transform":[{"filter":"datum.x==1"}],"mark":{"type":"text","align":"left","dx":4,"fontSize":5.5,"color":"#333"},"encoding":{"text":{"field":"t"}}},
   {"transform":[{"filter":"datum.x==2"}],"mark":{"type":"text","align":"right","dx":-4,"fontSize":5.5,"color":"#333"},"encoding":{"text":{"field":"t"}}}
  ]},
 {"width":64,"height":137,"data":{"values":[{"x":9,"y":133,"t":"(c)"}]},"mark":{"type":"text","fontSize":9,"color":"#333"},"encoding":{"x":{"field":"x","type":"quantitative","scale":{"domain":[0,64],"nice":false},"axis":null},"y":{"field":"y","type":"quantitative","scale":{"domain":[0,137],"reverse":true,"nice":false},"axis":null},"text":{"field":"t"}}},
 {"width":91,"height":97,"view":{"stroke":"#666","strokeWidth":1.4},"title":{"text":"MH2","fontSize":11,"offset":4},
  "data":{"values":[{"x":1,"y":0.029,"t":"Chondrocyte like cells"},{"x":2,"y":0.0197,"t":"Tenocyte like cells"}]},
  "encoding":{"x":{"field":"x","type":"quantitative","scale":{"domain":[0.95,2.05],"nice":false,"zero":false},"axis":{"values":[1,1.25,1.5,1.75,2],"format":".2f","labelAngle":-90,"labelFontSize":7.5,"title":"Cell type","titleFontSize":10.5,"titlePadding":8,"labelAlign":"right","labelBaseline":"middle"}},"y":{"field":"y","type":"quantitative","scale":{"domain":[0.0193,0.02942],"nice":false,"zero":false},"axis":{"values":[0.02,0.0225,0.025,0.0275],"format":".4f","labelFontSize":10,"title":"Regulon activity score","titleFontSize":10.5,"titlePadding":3}}},
  "layer":[
   {"mark":{"type":"circle","size":28,"opacity":1,"color":"#0b3c66"}},
   {"transform":[{"filter":"datum.x==1"}],"mark":{"type":"text","align":"left","dx":4,"fontSize":5.5,"color":"#333"},"encoding":{"text":{"field":"t"}}},
   {"transform":[{"filter":"datum.x==2"}],"mark":{"type":"text","align":"right","dx":-4,"fontSize":5.5,"color":"#333"},"encoding":{"text":{"field":"t"}}}
  ]}
]},
{"width":622,"height":228,
 "layer":[
  {"data":{"values":[{"x":272.5,"y":473.5,"set":"HO scRNA"},{"x":353.5,"y":473.5,"set":"HO RNA bulk"}]},"mark":{"type":"point","filled":true,"opacity":1,"shape":"M-1,0A1,0.558,0,1,1,1,0A1,0.558,0,1,1,-1,0Z","size":26569,"stroke":"#111","strokeWidth":0.7},
   "encoding":{"x":{"field":"x","type":"quantitative","scale":{"domain":[0,622],"nice":false,"zero":false},"axis":null},"y":{"field":"y","type":"quantitative","scale":{"domain":[388,616],"reverse":true,"nice":false,"zero":false},"axis":null},"fill":{"field":"set","type":"nominal","scale":{"domain":["HO scRNA","HO RNA bulk"],"range":["#0e4a88","#8c251c"]},"legend":null}}},
  {"data":{"values":[{"x":313,"y":473.5}]},"mark":{"type":"point","filled":true,"opacity":1,"fill":"#561812","shape":"M0,-0.483A1,0.558,0,0,1,0,0.483A1,0.558,0,0,1,0,-0.483Z","size":26569,"stroke":"#111","strokeWidth":0.7},
   "encoding":{"x":{"field":"x","type":"quantitative","axis":null},"y":{"field":"y","type":"quantitative","axis":null}}},
  {"data":{"values":[{"x":311.7,"x2":311.7,"y":530,"y2":578},{"x":298,"x2":311.7,"y":563,"y2":578},{"x":326,"x2":311.7,"y":563,"y2":578}]},"mark":{"type":"rule","color":"#111","strokeWidth":2.6},
   "encoding":{"x":{"field":"x","type":"quantitative","axis":null},"x2":{"field":"x2"},"y":{"field":"y","type":"quantitative","axis":null},"y2":{"field":"y2"}}},
  {"data":{"values":[{"x":254,"y":421,"t":"Hub TF from HO scRNA","g":"blue"},{"x":363,"y":421,"t":"Hub TF from HO RNA bulk","g":"red"}]},"mark":{"type":"text","fontSize":8.3},
   "encoding":{"x":{"field":"x","type":"quantitative","axis":null},"y":{"field":"y","type":"quantitative","axis":null},"text":{"field":"t"},"color":{"field":"g","type":"nominal","scale":{"domain":["blue","red"],"range":["#2f5f9e","#8c2a22"]},"legend":null}}},
  {"data":{"values":[{"x":246.7,"y":435.7,"t":"Ebf1"},{"x":246.7,"y":445.3,"t":"Klf3"},{"x":246.7,"y":455,"t":"Zmiz1"},{"x":246.7,"y":464.7,"t":"Usf2"},{"x":246.7,"y":474.3,"t":"Sin3a"},{"x":246.7,"y":484,"t":"Smarc"},{"x":246.7,"y":493.7,"t":"Ep300"},{"x":246.7,"y":503.3,"t":"Foxj2"},{"x":246.7,"y":513,"t":"E2f5"},{"x":365.7,"y":458.7,"t":"Gli1"},{"x":365.7,"y":468.3,"t":"En1"},{"x":365.7,"y":478,"t":"Shox"},{"x":365.7,"y":489,"t":"Tbx5"}]},"mark":{"type":"text","fontSize":8,"align":"left","color":"#111"},
   "encoding":{"x":{"field":"x","type":"quantitative","axis":null},"y":{"field":"y","type":"quantitative","axis":null},"text":{"field":"t"}}},
  {"data":{"values":[{"x":231,"y":473.5,"t":"9"},{"x":313,"y":473.5,"t":"1"},{"x":394,"y":473.5,"t":"4"}]},"mark":{"type":"text","fontSize":9.5,"color":"#111"},
   "encoding":{"x":{"field":"x","type":"quantitative","axis":null},"y":{"field":"y","type":"quantitative","axis":null},"text":{"field":"t"}}},
  {"data":{"values":[{"x":313,"y":491.7,"t":"Xpb1"}]},"mark":{"type":"text","fontSize":7.5,"color":"#111"},
   "encoding":{"x":{"field":"x","type":"quantitative","axis":null},"y":{"field":"y","type":"quantitative","axis":null},"text":{"field":"t"}}},
  {"data":{"values":[{"x":310.7,"y":589,"t":"Xbp1"}]},"mark":{"type":"text","fontSize":10,"color":"#3d3d7a"},
   "encoding":{"x":{"field":"x","type":"quantitative","axis":null},"y":{"field":"y","type":"quantitative","axis":null},"text":{"field":"t"}}},
  {"data":{"values":[{"x":310.7,"y":609,"t":"(d)"}]},"mark":{"type":"text","fontSize":9,"color":"#333"},
   "encoding":{"x":{"field":"x","type":"quantitative","axis":null},"y":{"field":"y","type":"quantitative","axis":null},"text":{"field":"t"}}}
 ]}
]
}
